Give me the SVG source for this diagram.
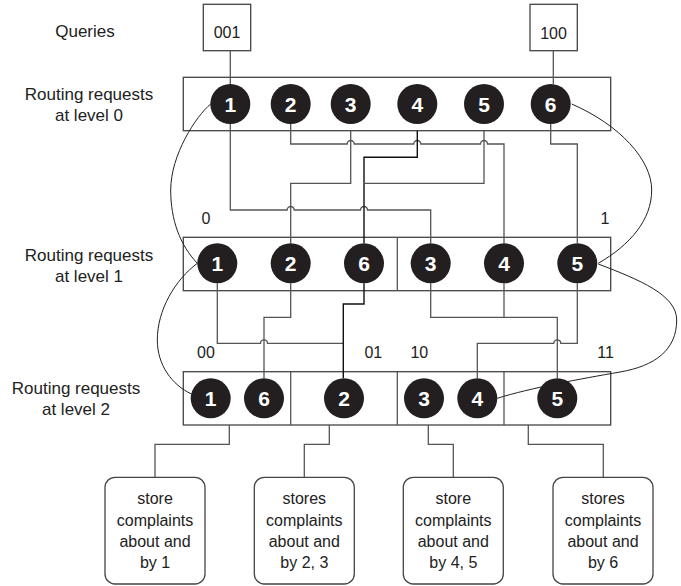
<svg xmlns="http://www.w3.org/2000/svg" width="681" height="586" viewBox="0 0 681 586">
<style>
.lbl{font-family:"Liberation Sans",Arial,sans-serif;font-size:17px;fill:#222;text-anchor:middle}
.sm{font-family:"Liberation Sans",Arial,sans-serif;font-size:16px;fill:#222;text-anchor:middle}
.box{fill:#fff;stroke:#444;stroke-width:1.3}
.ln{fill:none;stroke:#555;stroke-width:1.3}
.dk{fill:none;stroke:#111;stroke-width:1.4}
.cv{fill:none;stroke:#222;stroke-width:1}
.nd circle{fill:#231f20}
.nd text{font-family:"Liberation Sans",Arial,sans-serif;font-size:21px;font-weight:bold;fill:#fff;text-anchor:middle}
</style>
<rect width="681" height="586" fill="#fff"/>
<g id="labels">
<text class="lbl" x="85" y="37">Queries</text>
<text class="lbl" x="89" y="100">Routing requests</text>
<text class="lbl" x="89" y="121">at level 0</text>
<text class="lbl" x="89" y="261">Routing requests</text>
<text class="lbl" x="89" y="281.5">at level 1</text>
<text class="lbl" x="76" y="393.5">Routing requests</text>
<text class="lbl" x="76" y="414.5">at level 2</text>
<text class="sm" x="206" y="224">0</text>
<text class="sm" x="605" y="224">1</text>
<text class="sm" x="206" y="357.5">00</text>
<text class="sm" x="373.3" y="357.5">01</text>
<text class="sm" x="419.3" y="357.5">10</text>
<text class="sm" x="605.5" y="357.5">11</text>
</g>
<g id="levels">
<rect class="box" x="183.3" y="77.3" width="427.4" height="53.4"/>
<rect class="box" x="183.3" y="237.3" width="427.4" height="53.4"/>
<line class="ln" x1="397.3" y1="237.3" x2="397.3" y2="290.7"/>
<rect class="box" x="183.3" y="371.7" width="427.4" height="53.3"/>
<line class="ln" x1="290.7" y1="371.7" x2="290.7" y2="425"/>
<line class="ln" x1="397.3" y1="371.7" x2="397.3" y2="425"/>
<line class="ln" x1="504" y1="371.7" x2="504" y2="425"/>
</g>
<g id="query-001"><rect class="box" x="203.3" y="4.3" width="47.4" height="46.4"/><text class="sm" x="227" y="37.5">001</text></g>
<g id="query-100"><rect class="box" x="530" y="4.3" width="47.3" height="46.4"/><text class="sm" x="553.5" y="39">100</text></g>
<g id="connectors">
<path class="ln" d="M230.3,50.7V84"/>
<path class="ln" d="M553.3,50.7V84"/>
<path class="ln" d="M230.3,124V210H287.2a3.5,3.5 0 0 1 7,0H360.5a3.5,3.5 0 0 1 7,0H430.7V243.3"/>
<path class="ln" d="M290.7,124V144H347.2a3.5,3.5 0 0 1 7,0H413.8a3.5,3.5 0 0 1 7,0H480.5a3.5,3.5 0 0 1 7,0H504V243.3"/>
<path class="ln" d="M350.7,130.7V183.3H290.7V243.3"/>
<path class="dk" d="M417.3,130.7V157.3H364V243.3"/>
<path class="ln" d="M484,130.7V183.3H364"/>
<path class="ln" d="M550.7,124V144H577.3V243.3"/>
<path class="ln" d="M217.3,283.3V343.3H260.5a3.5,3.5 0 0 1 7,0H343.3"/>
<path class="ln" d="M290.7,283.3V317.3H264V378.3"/>
<path class="dk" d="M364,283.3V304H343.3V378.3"/>
<path class="ln" d="M430.7,283.3V317.3H557.3V378.3"/>
<path class="ln" d="M504,283.3V317.3"/>
<path class="ln" d="M577.3,283.3V343.3H560.8a3.5,3.5 0 0 0 -7,0H477.3V378.3"/>
<path class="ln" d="M229.3,425V444.3H155V477.3"/>
<path class="ln" d="M329.3,425V444.3H304.3V477.3"/>
<path class="ln" d="M428.3,425V444.3H453.3V477.3"/>
<path class="ln" d="M528.3,425V444.3H603.3V477.3"/>
<path class="cv" d="M210.7,104C196,116 170.7,155 170.7,190C170.7,220 180,245 197.3,263.3"/>
<path class="cv" d="M197.3,263.3C175,280 157.3,310 157.3,340C157.3,365 172,385 191.5,394"/>
<path class="cv" d="M571.7,104C620,125 651.7,160 651.7,190C651.7,220 630,245 598.3,263.3"/>
<path class="cv" d="M598.3,264C640,280 676.7,295 676.7,320C676.7,350 655,366 620,372C580,379 530,388 497.3,398.3"/>
</g>
<g id="l0-1" class="nd"><circle cx="230.3" cy="104" r="20"/><text x="230.3" y="111.5">1</text></g>
<g id="l0-2" class="nd"><circle cx="290.7" cy="104" r="20"/><text x="290.7" y="111.5">2</text></g>
<g id="l0-3" class="nd"><circle cx="350.7" cy="104" r="20"/><text x="350.7" y="111.5">3</text></g>
<g id="l0-4" class="nd"><circle cx="417.3" cy="104" r="20"/><text x="417.3" y="111.5">4</text></g>
<g id="l0-5" class="nd"><circle cx="484" cy="104" r="20"/><text x="484" y="111.5">5</text></g>
<g id="l0-6" class="nd"><circle cx="550.7" cy="104" r="20"/><text x="550.7" y="111.5">6</text></g>
<g id="l1-1" class="nd"><circle cx="217.3" cy="263.3" r="20"/><text x="217.3" y="270.8">1</text></g>
<g id="l1-2" class="nd"><circle cx="290.7" cy="263.3" r="20"/><text x="290.7" y="270.8">2</text></g>
<g id="l1-6" class="nd"><circle cx="364" cy="263.3" r="20"/><text x="364" y="270.8">6</text></g>
<g id="l1-3" class="nd"><circle cx="430.7" cy="263.3" r="20"/><text x="430.7" y="270.8">3</text></g>
<g id="l1-4" class="nd"><circle cx="504" cy="263.3" r="20"/><text x="504" y="270.8">4</text></g>
<g id="l1-5" class="nd"><circle cx="577.3" cy="263.3" r="20"/><text x="577.3" y="270.8">5</text></g>
<g id="l2-1" class="nd"><circle cx="210.7" cy="398.3" r="20"/><text x="210.7" y="405.8">1</text></g>
<g id="l2-6" class="nd"><circle cx="264" cy="398.3" r="20"/><text x="264" y="405.8">6</text></g>
<g id="l2-2" class="nd"><circle cx="344" cy="398.3" r="20"/><text x="344" y="405.8">2</text></g>
<g id="l2-3" class="nd"><circle cx="424" cy="398.3" r="20"/><text x="424" y="405.8">3</text></g>
<g id="l2-4" class="nd"><circle cx="477.3" cy="398.3" r="20"/><text x="477.3" y="405.8">4</text></g>
<g id="l2-5" class="nd"><circle cx="557.3" cy="398.3" r="20"/><text x="557.3" y="405.8">5</text></g>
<g id="store-1"><rect class="box" x="105" y="477.3" width="100" height="106.7" rx="10"/>
<text class="sm" x="155" y="504">store</text><text class="sm" x="155" y="525.5">complaints</text><text class="sm" x="155" y="547">about and</text><text class="sm" x="155" y="568">by 1</text></g>
<g id="store-2"><rect class="box" x="254.3" y="477.3" width="100" height="106.7" rx="10"/>
<text class="sm" x="304.3" y="504">stores</text><text class="sm" x="304.3" y="525.5">complaints</text><text class="sm" x="304.3" y="547">about and</text><text class="sm" x="304.3" y="568">by 2, 3</text></g>
<g id="store-3"><rect class="box" x="403.3" y="477.3" width="100" height="106.7" rx="10"/>
<text class="sm" x="453.3" y="504">store</text><text class="sm" x="453.3" y="525.5">complaints</text><text class="sm" x="453.3" y="547">about and</text><text class="sm" x="453.3" y="568">by 4, 5</text></g>
<g id="store-4"><rect class="box" x="553" y="477.3" width="100" height="106.7" rx="10"/>
<text class="sm" x="603" y="504">stores</text><text class="sm" x="603" y="525.5">complaints</text><text class="sm" x="603" y="547">about and</text><text class="sm" x="603" y="568">by 6</text></g>
</svg>
